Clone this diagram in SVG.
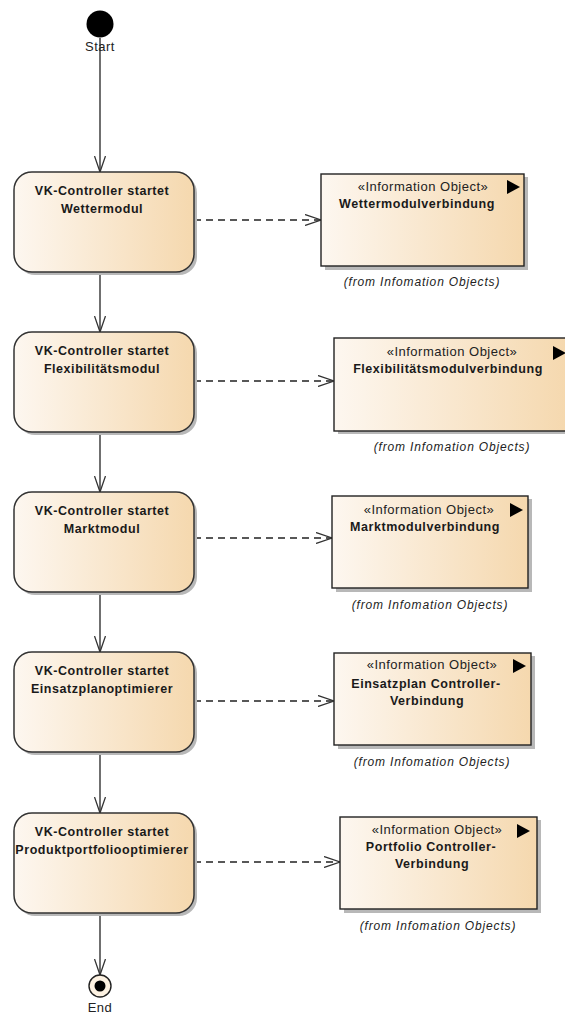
<svg xmlns="http://www.w3.org/2000/svg" width="565" height="1017" viewBox="0 0 565 1017">
  <defs>
    <linearGradient id="fill" x1="0" y1="0" x2="1" y2="0">
      <stop offset="0" stop-color="#fdf7f0"/>
      <stop offset="1" stop-color="#f5d8ae"/>
    </linearGradient>
    <marker id="open" markerWidth="18" markerHeight="12" refX="16" refY="6" orient="auto" markerUnits="userSpaceOnUse">
      <path d="M0,0.5 L16,6 L0,11.5" fill="none" stroke="#333" stroke-width="1.3"/>
    </marker>
  </defs>
  <style>
    .act { fill: url(#fill); stroke: #333; stroke-width: 1.5; }
    .obj { fill: url(#fill); stroke: #222; stroke-width: 1.4; }
    .shadow { fill: #b8b8b8; }
    .t { font-family: "Liberation Sans", Arial, sans-serif; font-size: 12.5px; letter-spacing: 0.55px; fill: #1a1a1a; text-anchor: middle; }
    .b { font-weight: bold; }
    .st { font-family: "Liberation Sans", Arial, sans-serif; font-size: 13px; letter-spacing: 0.5px; fill: #222; text-anchor: middle; }
    .from { font-family: "Liberation Sans", Arial, sans-serif; font-size: 12px; letter-spacing: 0.85px; font-style: italic; fill: #222; text-anchor: middle; }
    .flow { stroke: #333; stroke-width: 1.4; fill: none; marker-end: url(#open); }
    .dep { stroke: #222; stroke-width: 1.3; fill: none; stroke-dasharray: 7 5; marker-end: url(#open); }
  </style>

  <!-- control flows and dependencies -->
  <g id="connectors">
    <line class="flow" x1="100" y1="38" x2="100" y2="172"/>
    <line class="flow" x1="100" y1="272" x2="100" y2="332"/>
    <line class="flow" x1="100" y1="432" x2="100" y2="492"/>
    <line class="flow" x1="100" y1="592" x2="100" y2="652"/>
    <line class="flow" x1="100" y1="752" x2="100" y2="813"/>
    <line class="flow" x1="100" y1="913" x2="100" y2="975"/>
    <line class="dep" x1="194" y1="220" x2="321" y2="220"/>
    <line class="dep" x1="194" y1="381" x2="334" y2="381"/>
    <line class="dep" x1="194" y1="538" x2="332" y2="538"/>
    <line class="dep" x1="194" y1="701" x2="334" y2="701"/>
    <line class="dep" x1="194" y1="862" x2="340" y2="862"/>
  </g>

  <g id="start">
    <circle cx="100" cy="24" r="13.5" fill="#000"/>
    <text class="st" x="100" y="51">Start</text>
  </g>

  <g id="act-wetter">
    <rect class="shadow" x="17" y="175" width="180" height="100" rx="18"/>
    <rect class="act" x="14" y="172" width="180" height="100" rx="18"/>
    <text class="t b" x="102" y="195">VK-Controller startet</text>
    <text class="t b" x="102" y="213">Wettermodul</text>
  </g>
  <g id="act-flex">
    <rect class="shadow" x="17" y="335" width="180" height="100" rx="18"/>
    <rect class="act" x="14" y="332" width="180" height="100" rx="18"/>
    <text class="t b" x="102" y="355">VK-Controller startet</text>
    <text class="t b" x="102" y="373">Flexibilitätsmodul</text>
  </g>
  <g id="act-markt">
    <rect class="shadow" x="17" y="495" width="180" height="100" rx="18"/>
    <rect class="act" x="14" y="492" width="180" height="100" rx="18"/>
    <text class="t b" x="102" y="515">VK-Controller startet</text>
    <text class="t b" x="102" y="533">Marktmodul</text>
  </g>
  <g id="act-einsatz">
    <rect class="shadow" x="17" y="655" width="180" height="100" rx="18"/>
    <rect class="act" x="14" y="652" width="180" height="100" rx="18"/>
    <text class="t b" x="102" y="675">VK-Controller startet</text>
    <text class="t b" x="102" y="693">Einsatzplanoptimierer</text>
  </g>
  <g id="act-portfolio">
    <rect class="shadow" x="17" y="816" width="180" height="100" rx="18"/>
    <rect class="act" x="14" y="813" width="180" height="100" rx="18"/>
    <text class="t b" x="102" y="836">VK-Controller startet</text>
    <text class="t b" x="102" y="854">Produktportfoliooptimierer</text>
  </g>

  <g id="obj-wetter">
    <rect class="shadow" x="325" y="177" width="203" height="93"/>
    <rect class="obj" x="321" y="174" width="203" height="92"/>
    <polygon points="507,180 520,187 507,194" fill="#000"/>
    <text class="st" x="423" y="191">«Information Object»</text>
    <text class="t b" x="417" y="208">Wettermodulverbindung</text>
    <text class="from" x="422" y="286">(from Infomation Objects)</text>
  </g>
  <g id="obj-flex">
    <rect class="shadow" x="338" y="341" width="231" height="93"/>
    <rect class="obj" x="334" y="338" width="235" height="93"/>
    <polygon points="553,346 566,353 553,360" fill="#000"/>
    <text class="st" x="452" y="356">«Information Object»</text>
    <text class="t b" x="448" y="373">Flexibilitätsmodulverbindung</text>
    <text class="from" x="452" y="451">(from Infomation Objects)</text>
  </g>
  <g id="obj-markt">
    <rect class="shadow" x="336" y="499" width="196" height="93"/>
    <rect class="obj" x="332" y="496" width="196" height="92"/>
    <polygon points="510,503 523,510 510,517" fill="#000"/>
    <text class="st" x="429" y="514">«Information Object»</text>
    <text class="t b" x="425" y="531">Marktmodulverbindung</text>
    <text class="from" x="430" y="609">(from Infomation Objects)</text>
  </g>
  <g id="obj-einsatz">
    <rect class="shadow" x="338" y="656" width="197" height="93"/>
    <rect class="obj" x="334" y="653" width="197" height="92"/>
    <polygon points="513,659 526,666 513,673" fill="#000"/>
    <text class="st" x="432" y="669">«Information Object»</text>
    <text class="t b" x="426" y="688">Einsatzplan Controller-</text>
    <text class="t b" x="427" y="705">Verbindung</text>
    <text class="from" x="432" y="766">(from Infomation Objects)</text>
  </g>
  <g id="obj-portfolio">
    <rect class="shadow" x="344" y="820" width="197" height="93"/>
    <rect class="obj" x="340" y="817" width="197" height="92"/>
    <polygon points="517,824 530,831 517,838" fill="#000"/>
    <text class="st" x="437" y="834">«Information Object»</text>
    <text class="t b" x="431" y="851">Portfolio Controller-</text>
    <text class="t b" x="432" y="868">Verbindung</text>
    <text class="from" x="438" y="930">(from Infomation Objects)</text>
  </g>

  <g id="end">
    <circle cx="100" cy="986" r="11" fill="#fdf2e2" stroke="#222" stroke-width="1.4"/>
    <circle cx="100" cy="986" r="5.5" fill="#000"/>
    <text class="st" x="100" y="1012">End</text>
  </g>
</svg>
